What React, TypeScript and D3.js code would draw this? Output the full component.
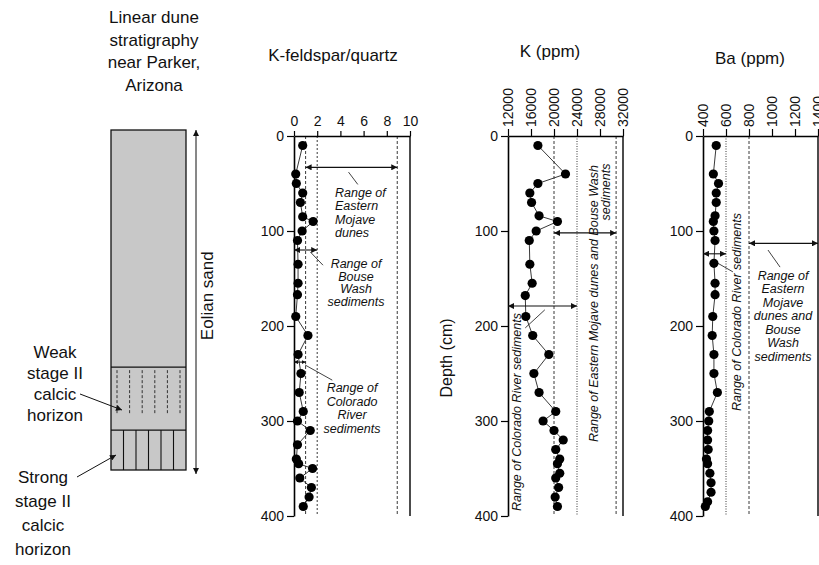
import React, { useEffect, useRef } from 'react';
import * as d3 from 'd3';

// depth axis shared by the three panels (cm)
const depthTicks = [0, 100, 200, 300, 400];

// K-feldspar / quartz ratio
const kfDepth = [10, 40, 50, 60, 70, 85, 90, 100, 110, 135, 155, 167, 190, 210, 230, 250, 270, 290, 300, 310, 325, 340, 345, 350, 360, 370, 380, 390];
const kfValue = [0.75, 0.15, 0.2, 0.75, 0.55, 0.75, 1.65, 0.7, 0.3, 0.35, 0.35, 0.3, 0.15, 1.2, 0.35, 0.6, 0.45, 0.8, 0.3, 1.4, 0.3, 0.2, 0.4, 1.6, 0.5, 1.5, 1.3, 0.8];
const kfTicks = [0, 2, 4, 6, 8, 10];

// K (ppm)
const kDepth = [10, 40, 50, 60, 70, 84, 90, 100, 110, 135, 155, 168, 190, 210, 230, 250, 270, 290, 300, 310, 320, 330, 340, 345, 355, 360, 370, 380, 390];
const kValue = [17200, 22000, 17200, 15800, 16100, 17400, 20600, 16900, 15700, 15800, 16200, 15000, 15100, 16300, 19100, 16500, 17400, 20300, 18100, 20000, 21600, 20300, 21000, 20600, 21000, 20300, 20800, 20200, 20600];
const kTicks = [12000, 16000, 20000, 24000, 28000, 32000];

// Ba (ppm)
const baDepth = [10, 40, 50, 60, 70, 84, 90, 100, 110, 134, 155, 167, 190, 210, 230, 250, 270, 290, 300, 310, 320, 330, 340, 345, 355, 365, 375, 385, 390];
const baValue = [515, 490, 535, 515, 515, 505, 490, 495, 505, 495, 505, 505, 485, 480, 495, 495, 525, 455, 450, 440, 440, 445, 430, 440, 460, 470, 470, 440, 420];
const baTicks = [400, 600, 800, 1000, 1200, 1400];

// reference ranges [min, max, depth where the arrow is drawn]
const kfEastMojave = [1, 8.9, 33];
const kfBouse = [0, 2, 120];
const kfColorado = [0, 1, 238];
const kEastBouse = [20000, 30800, 102];
const kColorado = [12000, 24000, 179];
const baColorado = [400, 600, 124];
const baEastBouse = [800, 1400, 113];

// stratigraphic units of the schematic column (depth in cm)
const weakTop = 279;
const strongTop = 353;

const FONT = "'Liberation Sans', Arial, Helvetica, sans-serif";

function lines(g: any, txt: string[], x: number, y0: number, lh: number, opts: any = {}) {
  const t = g.append('text')
    .attr('font-family', FONT)
    .attr('font-size', opts.size || 12.5)
    .attr('font-style', opts.italic === false ? 'normal' : 'italic')
    .attr('text-anchor', opts.anchor || 'middle')
    .attr('fill', '#111');
  txt.forEach((s, i) => {
    t.append('tspan').attr('x', x).attr('y', y0 + i * lh).text(s);
  });
  return t;
}

export default function App() {
  const ref = useRef<SVGSVGElement>(null);

  useEffect(() => {
    const svg = d3.select(ref.current);
    svg.selectAll('*').remove();

    const defs = svg.append('defs');
    defs.append('marker').attr('id', 'ah')
      .attr('viewBox', '0 0 10 10').attr('refX', 10).attr('refY', 5)
      .attr('markerWidth', 9).attr('markerHeight', 6)
      .attr('markerUnits', 'userSpaceOnUse')
      .attr('orient', 'auto-start-reverse')
      .append('path').attr('d', 'M0,0L10,5L0,10z').attr('fill', '#111');
    defs.append('marker').attr('id', 'ahs')
      .attr('viewBox', '0 0 10 10').attr('refX', 10).attr('refY', 5)
      .attr('markerWidth', 4).attr('markerHeight', 4)
      .attr('markerUnits', 'userSpaceOnUse')
      .attr('orient', 'auto-start-reverse')
      .append('path').attr('d', 'M0,0L10,5L0,10z').attr('fill', '#111');

    const y = d3.scaleLinear().domain([0, 400]).range([136, 516]);

    // ---------- stratigraphic column ----------
    const col = svg.append('g');
    lines(col, ['Linear dune', 'stratigraphy', 'near Parker,', 'Arizona'], 154, 23, 22.5, { size: 17, italic: false });

    const colX = 111, colW = 75;
    // schematic depth scale of the column
    const cy = d3.scaleLinear().domain([0, 400]).range([130, 470]);
    col.append('rect').attr('x', colX).attr('y', cy(0)).attr('width', colW).attr('height', cy(400) - cy(0))
      .attr('fill', '#c8c8c8').attr('stroke', '#111').attr('stroke-width', 1.3);
    [weakTop, strongTop].forEach(d => {
      col.append('line').attr('x1', colX).attr('x2', colX + colW).attr('y1', cy(d)).attr('y2', cy(d))
        .attr('stroke', '#111').attr('stroke-width', 1.3);
    });
    d3.range(6).forEach(i => {
      const x = colX + 6 + i * 12.6;
      col.append('line').attr('x1', x).attr('x2', x).attr('y1', cy(weakTop) + 3).attr('y2', cy(weakTop + 56))
        .attr('stroke', '#222').attr('stroke-width', 0.9).attr('stroke-dasharray', '3,2');
    });
    d3.range(1, 6).forEach(i => {
      const x = colX + i * colW / 6;
      col.append('line').attr('x1', x).attr('x2', x).attr('y1', cy(strongTop)).attr('y2', cy(400))
        .attr('stroke', '#111').attr('stroke-width', 1.1);
    });
    col.append('line').attr('x1', 196).attr('x2', 196).attr('y1', cy(0)).attr('y2', cy(400) + 4)
      .attr('stroke', '#111').attr('stroke-width', 1)
      .attr('marker-start', 'url(#ah)').attr('marker-end', 'url(#ah)');
    col.append('text').attr('transform', `translate(213,${cy(195)}) rotate(-90)`)
      .attr('font-family', FONT).attr('font-size', 17).attr('text-anchor', 'middle').attr('fill', '#111')
      .text('Eolian sand');

    lines(col, ['Weak', 'stage II', 'calcic', 'horizon'], 55, 358, 21, { size: 17, italic: false });
    col.append('line').attr('x1', 80).attr('y1', 394).attr('x2', 122).attr('y2', 410)
      .attr('stroke', '#111').attr('stroke-width', 1).attr('marker-end', 'url(#ah)');
    lines(col, ['Strong', 'stage II', 'calcic', 'horizon'], 43, 483, 24, { size: 17, italic: false });
    col.append('line').attr('x1', 77).attr('y1', 477).attr('x2', 116).attr('y2', 455)
      .attr('stroke', '#111').attr('stroke-width', 1).attr('marker-end', 'url(#ah)');

    // ---------- generic panel ----------
    function panel(opts: any) {
      const { x, ticks, rotate, title, titleX, titleY, depth, values, guides } = opts;
      const g = svg.append('g');
      const [x0, x1] = x.range();

      g.append('text').attr('x', titleX).attr('y', titleY)
        .attr('font-family', FONT).attr('font-size', 17).attr('text-anchor', 'middle').attr('fill', '#111')
        .text(title);

      guides.forEach((gd: any) => {
        g.append('line').attr('x1', x(gd.v)).attr('x2', x(gd.v)).attr('y1', y(0)).attr('y2', y(400))
          .attr('stroke', '#222').attr('stroke-width', 0.9).attr('stroke-dasharray', gd.dash);
      });

      g.append('line').attr('x1', x1).attr('x2', x1).attr('y1', y(0)).attr('y2', y(400))
        .attr('stroke', '#111').attr('stroke-width', 1.5);

      const left = g.append('g').attr('transform', `translate(${x0},0)`)
        .call(d3.axisLeft(y).tickValues(depthTicks).tickSize(7).tickSizeOuter(0).tickPadding(3).tickFormat(d3.format('d')));
      left.select('.domain').attr('stroke-width', 1.6);
      left.selectAll('line').attr('stroke-width', 1.2);
      left.selectAll('text').attr('font-family', FONT).attr('font-size', 14).attr('fill', '#111');

      const top = g.append('g').attr('transform', `translate(0,${y(0)})`)
        .call(d3.axisTop(x).tickValues(ticks).tickSize(rotate ? 7 : 5).tickSizeOuter(0).tickPadding(5).tickFormat(d3.format('d')));
      top.select('.domain').attr('stroke-width', 1.6);
      top.selectAll('line').attr('stroke-width', 1.2);
      const tt = top.selectAll('text').attr('font-family', FONT).attr('font-size', 14).attr('fill', '#111');
      if (rotate) {
        tt.attr('transform', 'rotate(-90)').attr('text-anchor', 'start')
          .attr('x', 9).attr('y', 0).attr('dy', '0.35em');
      }

      const pts = depth.map((d: number, i: number) => [values[i], d]);
      g.append('path').datum(pts)
        .attr('d', d3.line<any>().x(p => x(p[0])).y(p => y(p[1])))
        .attr('fill', 'none').attr('stroke', '#222').attr('stroke-width', 0.9);
      g.selectAll('circle.pt').data(pts).join('circle').attr('class', 'pt')
        .attr('cx', (p: any) => x(p[0])).attr('cy', (p: any) => y(p[1])).attr('r', 4.6).attr('fill', '#000');

      return g;
    }

    function rangeArrow(g: any, x: any, r: number[], small = false) {
      g.append('line').attr('x1', x(r[0])).attr('x2', x(r[1])).attr('y1', y(r[2])).attr('y2', y(r[2]))
        .attr('stroke', '#111').attr('stroke-width', 1.1)
        .attr('marker-start', small ? 'url(#ahs)' : 'url(#ah)').attr('marker-end', small ? 'url(#ahs)' : 'url(#ah)');
    }
    function leader(g: any, x: any, a: number[], b: number[]) {
      g.append('line').attr('x1', x(a[0])).attr('y1', y(a[1])).attr('x2', x(b[0])).attr('y2', y(b[1]))
        .attr('stroke', '#111').attr('stroke-width', 0.8);
    }
    function vtext(g: any, s: string, bx: number, by: number, anchor: string) {
      g.append('text').attr('transform', `translate(${bx},${by}) rotate(-90)`)
        .attr('font-family', FONT).attr('font-size', 12.5).attr('font-style', 'italic')
        .attr('text-anchor', anchor).attr('fill', '#111').text(s);
    }

    // ---------- K-feldspar / quartz ----------
    const xKf = d3.scaleLinear().domain([0, 10]).range([294, 410]);
    const p1 = panel({
      x: xKf, ticks: kfTicks, rotate: false, title: 'K-feldspar/quartz', titleX: 333, titleY: 61,
      depth: kfDepth, values: kfValue,
      guides: [{ v: 1, dash: '3,2' }, { v: 2, dash: '2,2' }, { v: 8.9, dash: '3,2' }],
    });
    rangeArrow(p1, xKf, kfEastMojave);
    rangeArrow(p1, xKf, kfBouse);
    rangeArrow(p1, xKf, kfColorado, true);
    leader(p1, xKf, [4.7, 38], [5.5, 51]);
    leader(p1, xKf, [1.4, 122], [2.5, 136]);
    leader(p1, xKf, [0.95, 241], [3.3, 257]);
    lines(p1, ['Range of', 'Eastern', 'Mojave', 'dunes'], 335, 197, 13.3, { anchor: 'start' });
    lines(p1, ['Range of', 'Bouse', 'Wash', 'sediments'], 356, 268, 12.6);
    lines(p1, ['Range of', 'Colorado', 'River', 'sediments'], 352, 392, 13.5);

    // ---------- K (ppm) ----------
    const xK = d3.scaleLinear().domain([12000, 32000]).range([508, 623]);
    const p2 = panel({
      x: xK, ticks: kTicks, rotate: true, title: 'K (ppm)', titleX: 550, titleY: 57,
      depth: kDepth, values: kValue,
      guides: [{ v: 20000, dash: '3,2' }, { v: 24000, dash: '1,1.5' }, { v: 30800, dash: '3,2' }],
    });
    rangeArrow(p2, xK, kEastBouse);
    rangeArrow(p2, xK, kColorado);
    leader(p2, xK, [15000, 202], [18400, 183]);
    vtext(p2, 'Range of Colorado River sediments', 521, 313, 'end');
    vtext(p2, 'Range of Eastern Mojave dunes and Bouse Wash', 598, 165, 'end');
    vtext(p2, 'sediments', 610, 192, 'middle');
    p2.append('text').attr('transform', `translate(452,358) rotate(-90)`)
      .attr('font-family', FONT).attr('font-size', 16).attr('text-anchor', 'middle').attr('fill', '#111')
      .text('Depth (cm)');

    // ---------- Ba (ppm) ----------
    const xBa = d3.scaleLinear().domain([400, 1400]).range([703, 818]);
    const p3 = panel({
      x: xBa, ticks: baTicks, rotate: true, title: 'Ba (ppm)', titleX: 750, titleY: 64,
      depth: baDepth, values: baValue,
      guides: [{ v: 600, dash: '1,1.5' }, { v: 800, dash: '3,2' }],
    });
    rangeArrow(p3, xBa, baColorado);
    rangeArrow(p3, xBa, baEastBouse);
    leader(p3, xBa, [530, 134], [660, 143]);
    leader(p3, xBa, [965, 120], [1070, 138]);
    vtext(p3, 'Range of Colorado River sediments', 741, 213, 'end');
    lines(p3, ['Range of', 'Eastern', 'Mojave', 'dunes and', 'Bouse', 'Wash', 'sediments'], 783, 279.5, 13.5);
  }, []);

  return (
    <svg ref={ref} width={819} height={565}
      style={{ position: 'absolute', left: 0, top: 0, background: '#fff', display: 'block' }} />
  );
}
